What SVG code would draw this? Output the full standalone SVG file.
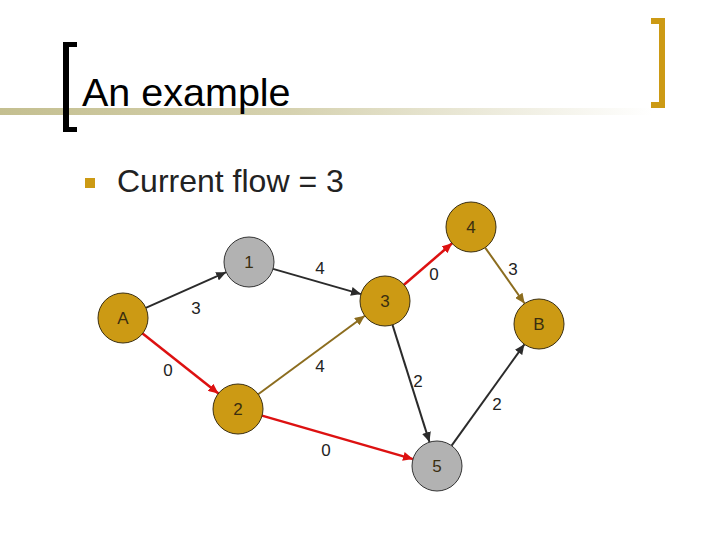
<svg xmlns="http://www.w3.org/2000/svg" width="720" height="540" viewBox="0 0 720 540">
<defs>
<linearGradient id="bar" x1="0" y1="0" x2="1" y2="0">
<stop offset="0" stop-color="#c4bf90"/>
<stop offset="0.45" stop-color="#d6d2b0"/>
<stop offset="1" stop-color="#ffffff"/>
</linearGradient>
<marker id="ak" markerUnits="userSpaceOnUse" markerWidth="11" markerHeight="9" refX="10" refY="4.5" orient="auto"><path d="M0,0 L10,4.5 L0,9 Z" fill="#2b2b2b"/></marker>
<marker id="ar" markerUnits="userSpaceOnUse" markerWidth="11" markerHeight="9" refX="10" refY="4.5" orient="auto"><path d="M0,0 L10,4.5 L0,9 Z" fill="#dd1111"/></marker>
<marker id="ao" markerUnits="userSpaceOnUse" markerWidth="11" markerHeight="9" refX="10" refY="4.5" orient="auto"><path d="M0,0 L10,4.5 L0,9 Z" fill="#8c6d1f"/></marker>
</defs>
<style>
.t{font-family:"Liberation Sans",Arial,sans-serif}
.gold{fill:#cc9a14;stroke:#3a2e10;stroke-width:1}
.gray{fill:#b2b2b2;stroke:#333;stroke-width:1}
.nl{font-family:"Liberation Sans",Arial,sans-serif;font-size:17px;fill:#3a2e10;text-anchor:middle}
.el{font-family:"Liberation Sans",Arial,sans-serif;font-size:17px;fill:#222;text-anchor:middle}
.ek{stroke:#2b2b2b;stroke-width:2;fill:none;marker-end:url(#ak)}
.er{stroke:#dd1111;stroke-width:2.5;fill:none;marker-end:url(#ar)}
.eo{stroke:#8c6d1f;stroke-width:2;fill:none;marker-end:url(#ao)}
</style>
<rect width="720" height="540" fill="#ffffff"/>
<g id="header">
<rect x="0" y="108" width="652" height="7" fill="url(#bar)"/>
<path d="M77,42 H63 V132 H77 V127 H69 V47 H77 Z" fill="#000"/>
<path d="M651,18 H665 V108 H651 V102 H659 V24 H651 Z" fill="#cc9a14"/>
<text class="t" x="82" y="106" font-size="39.5" fill="#000">An example</text>
<rect x="85" y="178" width="10" height="10" fill="#cc9a14"/>
<text class="t" x="117" y="192" font-size="32" fill="#222">Current flow = 3</text>
</g>
<g id="connectors">
<line class="ek" x1="145.8" y1="307.8" x2="226.2" y2="272.2"/>
<line class="ek" x1="273" y1="268.9" x2="361" y2="294.1"/>
<line class="er" x1="404" y1="284.7" x2="452.1" y2="243.3"/>
<line class="eo" x1="485.3" y1="247.8" x2="524.6" y2="303.5"/>
<line class="er" x1="142.6" y1="333.5" x2="218.4" y2="393.5"/>
<line class="eo" x1="258.2" y1="394.2" x2="364.8" y2="315.8"/>
<line class="ek" x1="392.5" y1="324.9" x2="429.5" y2="442.1"/>
<line class="ek" x1="451.6" y1="445.7" x2="524.4" y2="344.3"/>
<line class="er" x1="262" y1="415.6" x2="413" y2="459.1"/>
<text class="el" x="196" y="314">3</text>
<text class="el" x="320" y="274">4</text>
<text class="el" x="434" y="280">0</text>
<text class="el" x="513" y="275">3</text>
<text class="el" x="168" y="376">0</text>
<text class="el" x="320" y="372">4</text>
<text class="el" x="418" y="387">2</text>
<text class="el" x="497" y="410">2</text>
<text class="el" x="326" y="456">0</text>
</g>
<g id="node-A"><circle class="gold" cx="123" cy="318" r="25"/><text class="nl" x="123" y="324">A</text></g>
<g id="node-1"><circle class="gray" cx="249" cy="262" r="25"/><text class="nl" x="249" y="268">1</text></g>
<g id="node-3"><circle class="gold" cx="385" cy="301" r="25"/><text class="nl" x="385" y="307">3</text></g>
<g id="node-4"><circle class="gold" cx="471" cy="227" r="25"/><text class="nl" x="471" y="233">4</text></g>
<g id="node-B"><circle class="gold" cx="539" cy="324" r="25"/><text class="nl" x="539" y="330">B</text></g>
<g id="node-2"><circle class="gold" cx="238" cy="409" r="25"/><text class="nl" x="238" y="415">2</text></g>
<g id="node-5"><circle class="gray" cx="437" cy="466" r="25"/><text class="nl" x="437" y="472">5</text></g>
</svg>
